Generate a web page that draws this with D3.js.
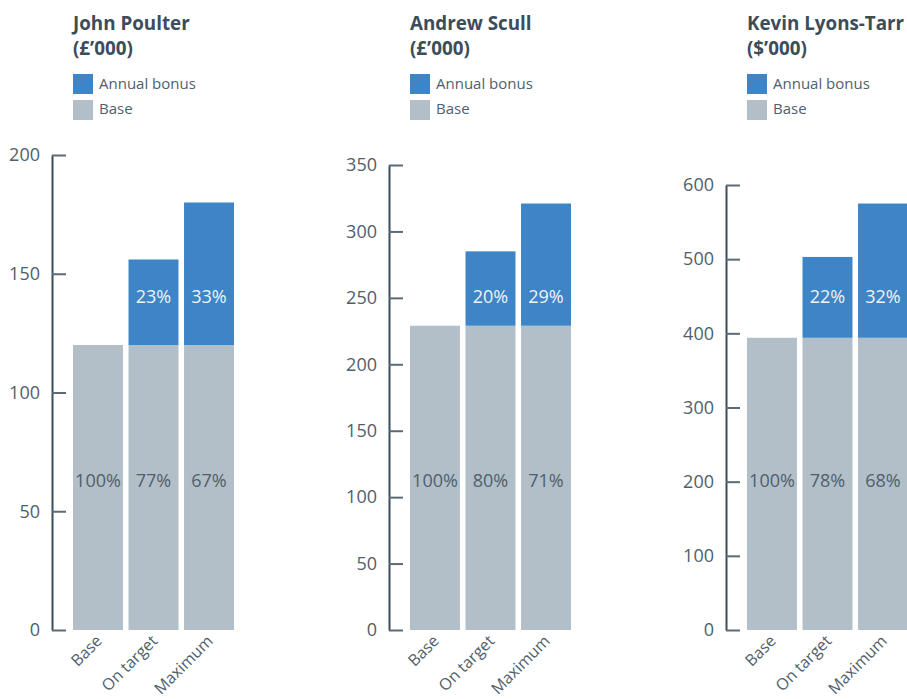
<!DOCTYPE html>
<html>
<head>
<meta charset="utf-8">
<script src="https://cdn.jsdelivr.net/npm/d3@7"></script>
<style>
  html, body { margin: 0; padding: 0; background: #ffffff; }
  svg { display: block; }
  text { font-family: "Open Sans", "Noto Sans", sans-serif; }
</style>
</head>
<body>
<svg id="chart" width="907" height="699"></svg>
<script>
// ---- data ----
const categories = ["Base", "On target", "Maximum"];
const names = ["John Poulter", "Andrew Scull", "Kevin Lyons-Tarr"];
const units = ["(£’000)", "(£’000)", "($’000)"];
const baseValues = [
  [120, 120, 120],
  [229, 229, 229],
  [394, 394, 394]
];
const bonusValues = [
  [0, 36, 60],
  [0, 56, 92],
  [0, 109, 181]
];
const basePctLabels = [
  ["100%", "77%", "67%"],
  ["100%", "80%", "71%"],
  ["100%", "78%", "68%"]
];
const bonusPctLabels = [
  ["", "23%", "33%"],
  ["", "20%", "29%"],
  ["", "22%", "32%"]
];
const tickValues = [
  [0, 50, 100, 150, 200],
  [0, 50, 100, 150, 200, 250, 300, 350],
  [0, 100, 200, 300, 400, 500, 600]
];
const legendLabels = ["Annual bonus", "Base"];

// ---- style / layout ----
const colBonus = "#3d85c6";
const colBase = "#b2bfc8";
const colDark = "#3b4d5b";
const colText = "#4f606c";
const panelLeft = [73, 410, 747];
const axisTop = [155, 165, 185];
const axisBottom = 630;
const bandWidth = 161;

const svg = d3.select("#chart");

names.forEach((name, p) => {
  const x0 = panelLeft[p];
  const g = svg.append("g");

  // titles
  g.append("text").attr("x", x0).attr("y", 30)
    .attr("font-size", 18.8).attr("font-weight", 700).attr("fill", colDark)
    .text(name);
  g.append("text").attr("x", x0).attr("y", 55)
    .attr("font-size", 18.8).attr("font-weight", 700).attr("fill", colDark)
    .text(units[p]);

  // legend
  const legCols = [colBonus, colBase];
  legendLabels.forEach((lab, i) => {
    g.append("rect").attr("x", x0).attr("y", 74 + i * 26)
      .attr("width", 20).attr("height", 20).attr("fill", legCols[i]);
    g.append("text").attr("x", x0 + 26).attr("y", 89 + i * 25)
      .attr("font-size", 15).attr("font-weight", 400).attr("fill", colText)
      .text(lab);
  });

  const ticks = tickValues[p];
  const y = d3.scaleLinear().domain([0, d3.max(ticks)]).range([axisBottom, axisTop[p]]);
  const x = d3.scaleBand().domain(categories).range([x0, x0 + bandWidth])
    .paddingInner(0.1).paddingOuter(0);

  const data = categories.map((c, i) => ({
    cat: c, base: baseValues[p][i], bonus: bonusValues[p][i],
    basePct: basePctLabels[p][i], bonusPct: bonusPctLabels[p][i]
  }));

  // base bars
  g.selectAll("rect.base").data(data).join("rect").attr("class", "base")
    .attr("x", d => x(d.cat)).attr("width", x.bandwidth())
    .attr("y", d => y(d.base)).attr("height", d => y(0) - y(d.base))
    .attr("fill", colBase);
  // bonus bars
  g.selectAll("rect.bonus").data(data.filter(d => d.bonus > 0)).join("rect").attr("class", "bonus")
    .attr("x", d => x(d.cat)).attr("width", x.bandwidth())
    .attr("y", d => y(d.base + d.bonus)).attr("height", d => y(d.base) - y(d.base + d.bonus))
    .attr("fill", colBonus);

  // pct labels
  g.selectAll("text.bpct").data(data).join("text").attr("class", "bpct")
    .attr("x", d => x(d.cat) + x.bandwidth() / 2).attr("y", 487)
    .attr("text-anchor", "middle").attr("font-size", 18).attr("font-weight", 400)
    .attr("fill", colText).text(d => d.basePct);
  g.selectAll("text.upct").data(data.filter(d => d.bonusPct)).join("text").attr("class", "upct")
    .attr("x", d => x(d.cat) + x.bandwidth() / 2).attr("y", 303)
    .attr("text-anchor", "middle").attr("font-size", 18).attr("font-weight", 400)
    .attr("fill", "#eef3f8").text(d => d.bonusPct);

  // y axis
  const axisX = x0 - 21;
  const ax = g.append("g").attr("transform", `translate(${axisX},0)`)
    .call(d3.axisLeft(y).tickValues(ticks).tickFormat(d3.format("d"))
      .tickSizeInner(-14).tickSizeOuter(0).tickPadding(12));
  ax.select(".domain").attr("stroke", colDark).attr("stroke-width", 2);
  ax.selectAll(".tick line").attr("stroke", "#5a6b77").attr("stroke-width", 2);
  ax.selectAll(".tick text").attr("font-size", 18).attr("font-weight", 400)
    .attr("fill", colText).attr("font-family", "'Open Sans', 'Noto Sans', sans-serif");

  // x labels
  g.selectAll("text.xl").data(categories).join("text").attr("class", "xl")
    .attr("text-anchor", "end").attr("font-size", 16).attr("font-weight", 400)
    .attr("fill", colText)
    .attr("transform", d => `translate(${x(d) + x.bandwidth() / 2 + 5},${axisBottom + 12}) rotate(-45)`)
    .text(d => d);
});
</script>
</body>
</html>
